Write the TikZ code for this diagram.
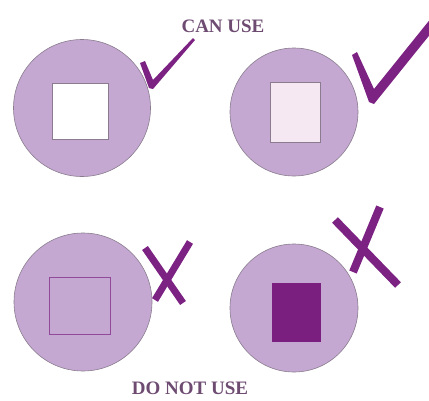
\documentclass[tikz,border=0pt]{standalone}
\usepackage{fontspec}
\setmainfont{Liberation Serif}
\definecolor{disc}{HTML}{C4A8D2}
\definecolor{discline}{HTML}{8A7C8E}
\definecolor{mark}{HTML}{7B2282}
\definecolor{darksq}{HTML}{7A1E80}
\definecolor{palesq}{HTML}{F5E8F2}
\definecolor{label}{HTML}{6E4C72}
\begin{document}
\begin{tikzpicture}[x=1pt,y=-1pt,
  discnode/.style={circle, fill=disc, draw=discline, line width=0.6pt, inner sep=0pt},
  sqnode/.style={rectangle, draw=discline, line width=0.6pt, inner sep=0pt},
  markfill/.style={fill=mark, draw=none},
  crossline/.style={draw=mark, line width=7pt},
  lbl/.style={text=label, font=\fontsize{19}{19}\selectfont\bfseries, inner sep=0pt}]
\useasboundingbox (0,0) rectangle (429,400);
\clip (0,0) rectangle (429,400);
% top row
\node[discnode, minimum size=137pt] (d1) at (82,108) {};
\node[sqnode, fill=white, minimum width=56pt, minimum height=56pt] (s1) at (80,111) {};
\node[discnode, minimum size=128pt] (d2) at (294,112) {};
\node[sqnode, fill=palesq, minimum width=50pt, minimum height=60pt] (s2) at (295,112) {};
% checks
\fill[markfill] (140,63) -- (145,61) -- (153,80) -- (193,38) -- (195,40) -- (153,89) -- (149,88) -- cycle;
\fill[markfill] (352,55) -- (357,52) -- (374,89) -- (432,17) -- (432,32) -- (374,104) -- (369,102) -- cycle;
% bottom row
\node[discnode, minimum size=138pt] (d3) at (83,302) {};
\node[sqnode, draw=mark!70!disc, fill=disc, minimum width=61pt, minimum height=57pt] (s3) at (80,306) {};
\node[discnode, minimum size=128pt] (d4) at (294,308) {};
\node[sqnode, draw=none, fill=darksq, minimum width=49pt, minimum height=59pt] (s4) at (296,312) {};
% crosses
\draw[crossline] (145,248) -- (183,303);
\draw[crossline] (190,242) -- (155,300);
\draw[crossline, line width=8pt] (335,220) -- (398,285);
\draw[crossline, line width=8pt] (380,207) -- (353,272);
% labels
\node[lbl] (t1) at (223,26) {CAN USE};
\node[lbl] (t2) at (190,388) {DO NOT USE};
\end{tikzpicture}
\end{document}
